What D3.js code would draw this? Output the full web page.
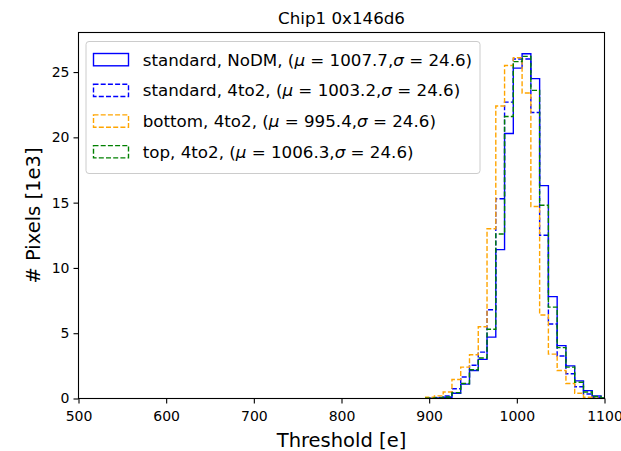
<!DOCTYPE html>
<html>
<head>
<meta charset="utf-8">
<script src="https://cdn.jsdelivr.net/npm/d3@7"></script>
<style>
  body { margin: 0; background: #fff; }
  svg { display: block; font-family: "DejaVu Sans", sans-serif; }
</style>
</head>
<body>
<div id="viz"></div>
<script>
var width = 621,
    height = 451;

// plot area (pixels)
var margin = {left: 78.5, right: 604.5, top: 32.5, bottom: 398.5};

// bin edges of the histograms: 896, 906, ... 1106
var binEdges = [896, 906, 916, 926, 936, 946, 956, 966, 976, 986, 996,
    1006, 1016, 1026, 1036, 1046, 1056, 1066, 1076, 1086, 1096, 1106];

// counts per bin [1e3 pixels]
var stdNoDM = [0.02, 0.05, 0.1, 0.4, 1.1, 2.15, 3.0, 4.7, 11.4, 20.3, 25.3,
    26.4, 24.5, 16.3, 7.8, 4.05, 2.5, 1.35, 0.6, 0.2, 0.05];
var std4to2 = [0.03, 0.08, 0.2, 0.75, 1.65, 2.55, 3.55, 6.8, 15.3, 22.7, 26.0,
    26.0, 21.9, 12.5, 5.7, 3.25, 1.9, 0.9, 0.35, 0.1, 0.03];
var bottom4to2 = [0.1, 0.2, 0.5, 1.45, 2.4, 3.35, 5.5, 13.0, 22.4, 25.5, 26.1,
    23.4, 14.7, 6.4, 3.4, 2.15, 1.15, 0.4, 0.1, 0.03, 0.0];
var top4to2 = [0.02, 0.05, 0.12, 0.45, 1.15, 2.2, 3.1, 5.3, 12.6, 21.6, 25.8,
    26.2, 23.6, 14.8, 7.0, 3.9, 2.4, 1.25, 0.5, 0.15, 0.05];

var seriesNames = ["standard, NoDM, ", "standard, 4to2, ", "bottom, 4to2, ", "top, 4to2, "];
var seriesMu = ["1007.7", "1003.2", "995.4", "1006.3"];
var seriesSigma = ["24.6", "24.6", "24.6", "24.6"];
var seriesColors = ["#0000ff", "#0000ff", "#ffa500", "#008000"];
var seriesDashed = [false, true, true, true];
var seriesValues = [stdNoDM, std4to2, bottom4to2, top4to2];

var xTicks = [500, 600, 700, 800, 900, 1000, 1100];
var yTicks = [0, 5, 10, 15, 20, 25];

var title = "Chip1 0x146d6",
    xLabel = "Threshold [e]",
    yLabel = "# Pixels [1e3]";

var svg = d3.select("div#viz")
    .append("svg")
    .attr("width", width)
    .attr("height", height);

var x = d3.scaleLinear().domain([500, 1100]).range([margin.left, margin.right]);
var y = d3.scaleLinear().domain([0, 28.03]).range([margin.bottom, margin.top]);

svg.append("defs").append("clipPath")
    .attr("id", "plotclip")
    .append("rect")
    .attr("x", margin.left)
    .attr("y", margin.top)
    .attr("width", margin.right - margin.left)
    .attr("height", margin.bottom - margin.top);

// step outline of a histogram
function stepPoints(values) {
    var pts = [[binEdges[0], 0]];
    values.forEach(function(v, i) {
        pts.push([binEdges[i], v]);
        pts.push([binEdges[i + 1], v]);
    });
    pts.push([binEdges[binEdges.length - 1], 0]);
    return pts;
}

var line = d3.line()
    .x(function(d) { return x(d[0]); })
    .y(function(d) { return y(d[1]); });

var hists = svg.append("g").attr("clip-path", "url(#plotclip)");

seriesValues.forEach(function(vals, i) {
    hists.append("path")
        .attr("d", line(stepPoints(vals)))
        .attr("fill", "none")
        .attr("stroke", seriesColors[i])
        .attr("stroke-width", 1.4)
        .attr("stroke-dasharray", seriesDashed[i] ? "5,2.2" : null);
});

// axes
var xAxis = svg.append("g")
    .attr("transform", "translate(0," + margin.bottom + ")")
    .call(d3.axisBottom(x).tickValues(xTicks).tickSize(5).tickPadding(4).tickFormat(d3.format("d")));
var yAxis = svg.append("g")
    .attr("transform", "translate(" + margin.left + ",0)")
    .call(d3.axisLeft(y).tickValues(yTicks).tickSize(5).tickPadding(4).tickFormat(d3.format("d")));

[xAxis, yAxis].forEach(function(ax) {
    ax.select(".domain").remove();
    ax.selectAll(".tick line").attr("stroke", "#000").attr("stroke-width", 1.1);
    ax.selectAll(".tick text")
        .attr("fill", "#000")
        .style("font-family", "DejaVu Sans")
        .style("font-size", "14px");
});
xAxis.selectAll(".tick text").attr("dy", "0.95em");

// frame
svg.append("rect")
    .attr("x", margin.left)
    .attr("y", margin.top)
    .attr("width", margin.right - margin.left)
    .attr("height", margin.bottom - margin.top)
    .attr("fill", "none")
    .attr("stroke", "#000")
    .attr("stroke-width", 1.1);

// title and labels
svg.append("text")
    .attr("x", (margin.left + margin.right) / 2)
    .attr("y", 24)
    .attr("text-anchor", "middle")
    .style("font-size", "16.7px")
    .text(title);

svg.append("text")
    .attr("x", (margin.left + margin.right) / 2)
    .attr("y", 447)
    .attr("text-anchor", "middle")
    .style("font-size", "19.5px")
    .text(xLabel);

svg.append("text")
    .attr("transform", "translate(40," + ((margin.top + margin.bottom) / 2) + ") rotate(-90)")
    .attr("text-anchor", "middle")
    .style("font-size", "19.5px")
    .text(yLabel);

// legend
var legend = svg.append("g");
legend.append("rect")
    .attr("x", 86)
    .attr("y", 41.5)
    .attr("width", 394)
    .attr("height", 132)
    .attr("rx", 3)
    .attr("fill", "#fff")
    .attr("fill-opacity", 0.8)
    .attr("stroke", "#cccccc")
    .attr("stroke-width", 1);

seriesNames.forEach(function(name, i) {
    var yy = 53.5 + i * 30.7;
    legend.append("rect")
        .attr("x", 93.5)
        .attr("y", yy)
        .attr("width", 35)
        .attr("height", 12.3)
        .attr("fill", "none")
        .attr("stroke", seriesColors[i])
        .attr("stroke-width", 1.4)
        .attr("stroke-dasharray", seriesDashed[i] ? "5,2.2" : null);

    var t = legend.append("text")
        .attr("x", 142.7)
        .attr("y", yy + 12.2)
        .style("font-size", "16.7px");
    t.append("tspan").text(name + "(");
    t.append("tspan").style("font-style", "italic").text("\u03bc");
    t.append("tspan").text(" = " + seriesMu[i] + ",");
    t.append("tspan").style("font-style", "italic").text("\u03c3");
    t.append("tspan").text(" = " + seriesSigma[i] + ")");
});
</script>
</body>
</html>
